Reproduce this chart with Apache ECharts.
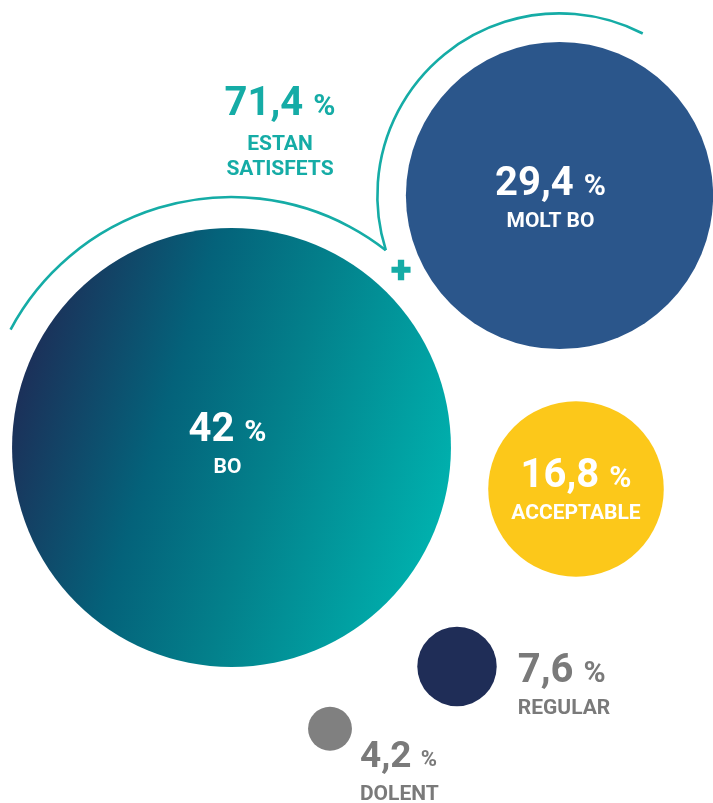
<!DOCTYPE html>
<html>
<head>
<meta charset="utf-8">
<script src="https://cdn.jsdelivr.net/npm/echarts@6/dist/echarts.min.js"></script>
<style>
  html, body { margin: 0; padding: 0; background: #ffffff; }
  #chart { width: 713px; height: 803px; }
</style>
</head>
<body>
<div id="chart"></div>
<script>
// ---- data ----
const categories = ['BO', 'MOLT BO', 'ACCEPTABLE', 'REGULAR', 'DOLENT'];
const percentages = [42, 29.4, 16.8, 7.6, 4.2];
const satisfiedGroup = ['BO', 'MOLT BO'];          // summed into the headline figure
const satisfiedCaption = ['ESTAN', 'SATISFETS'];

// ---- layout (bubble centres on a plane the size of the canvas) ----
const centres = [[231.5, 447.5], [559.5, 195.5], [576, 489], [457, 666.5], [330, 728.7]];
const labelSide = ['inside', 'inside', 'inside', 'right', 'right'];
const labelOffset = [[-4, -5], [-9, 1], [0, 0], [0, 17], [0, 41]];
const labelDistance = [0, 0, 0, 21, 8];

// ---- styles ----
const FONT = 'Roboto';
const TEAL = '#15aca6';
const GREY_TEXT = '#7a7a7a';
const PX_PER_POINT = 10.45;                  // bubble diameter per percentage point
const sizeOf = v => v * PX_PER_POINT;
const fmt = v => String(v).replace('.', ',');

const boGradient = new echarts.graphic.LinearGradient(0, 0.3, 1, 0.6, [
  { offset: 0, color: '#1e2b56' },
  { offset: 0.35, color: '#04627a' },
  { offset: 0.6, color: '#03808b' },
  { offset: 1, color: '#00b1ae' }
]);
const bubbleColors = [boGradient, '#2b568b', '#fcc81a', '#1f2d57', '#808080'];
const labelColors = ['#ffffff', '#ffffff', '#ffffff', GREY_TEXT, GREY_TEXT];
const valueFont = [40, 40, 40, 40, 37];
const pctFont = [30, 30, 30, 30, 22];

function richFor(i) {
  const c = labelColors[i];
  return {
    v: { fontFamily: FONT, fontWeight: 'bold', fontSize: valueFont[i], color: c, lineHeight: 50 },
    p: { fontFamily: FONT, fontWeight: 'bold', fontSize: pctFont[i], color: c, lineHeight: 50, padding: [5, 0, 0, 0] },
    n: { fontFamily: FONT, fontWeight: 'bold', fontSize: 21, color: c, lineHeight: 24 }
  };
}

const seriesData = categories.map((name, i) => ({
  name,
  value: [centres[i][0], centres[i][1], percentages[i]],
  itemStyle: { color: bubbleColors[i], opacity: 1 },
  label: {
    show: true,
    position: labelSide[i],
    distance: labelDistance[i],
    offset: labelOffset[i],
    align: labelSide[i] === 'inside' ? 'center' : 'left',
    formatter: p => `{v|${fmt(p.value[2])} }{p|%}\n{n|${p.name}}`,
    rich: richFor(i)
  }
}));

const chart = echarts.init(document.getElementById('chart'), null, { renderer: 'canvas' });

chart.setOption({
  animation: false,
  backgroundColor: '#ffffff',
  textStyle: { fontFamily: FONT },
  grid: { left: 0, top: 0, right: 0, bottom: 0 },
  xAxis: { type: 'value', min: 0, max: 713, show: false },
  yAxis: { type: 'value', min: 0, max: 803, inverse: true, show: false },
  series: [{
    type: 'scatter',
    symbol: 'circle',
    symbolSize: val => sizeOf(val[2]),
    itemStyle: { opacity: 1 },
    emphasis: { disabled: true },
    data: seriesData,
    silent: true
  }]
});

// ---- rings joining the two "satisfied" bubbles ----
const idxA = categories.indexOf(satisfiedGroup[0]);
const idxB = categories.indexOf(satisfiedGroup[1]);
const cA = chart.convertToPixel({ seriesIndex: 0 }, centres[idxA]);
const cB = chart.convertToPixel({ seriesIndex: 0 }, centres[idxB]);
const rA = sizeOf(percentages[idxA]) / 2 + 31;
const rB = sizeOf(percentages[idxB]) / 2 + 28.5;

// upper intersection of the two rings = the point where they meet
const dx = cB[0] - cA[0], dy = cB[1] - cA[1];
const d = Math.hypot(dx, dy);
const a = (d * d + rA * rA - rB * rB) / (2 * d);
const h = Math.sqrt(Math.max(0, rA * rA - a * a));
const ux = dx / d, uy = dy / d;
const tip = [cA[0] + a * ux + h * uy, cA[1] + a * uy - h * ux];

const deg = x => x * Math.PI / 180;
const angA = Math.atan2(tip[1] - cA[1], tip[0] - cA[0]);
const angB = Math.atan2(tip[1] - cB[1], tip[0] - cB[0]);

const satisfiedTotal = Math.round(
  satisfiedGroup.reduce((s, n) => s + percentages[categories.indexOf(n)], 0) * 10
) / 10;

chart.setOption({
  graphic: [
    {
      type: 'arc', silent: true,
      shape: { cx: cA[0], cy: cA[1], r: rA, startAngle: deg(-151.9), endAngle: angA, clockwise: true },
      style: { stroke: TEAL, lineWidth: 2.6, fill: 'none' }
    },
    {
      type: 'arc', silent: true,
      shape: { cx: cB[0], cy: cB[1], r: rB, startAngle: angB, endAngle: deg(-62.8), clockwise: true },
      style: { stroke: TEAL, lineWidth: 2.6, fill: 'none' }
    },
    {
      type: 'text', silent: true,
      x: 401, y: 273,
      style: {
        text: '+', fill: TEAL, stroke: TEAL, lineWidth: 1.5,
        font: 'bold 36px ' + FONT, align: 'center', verticalAlign: 'middle'
      }
    },
    {
      type: 'text', silent: true,
      x: 280, y: 78,
      style: {
        text: `{v|${fmt(satisfiedTotal)} }{p|%}\n{n|${satisfiedCaption[0]}}\n{n|${satisfiedCaption[1]}}`,
        align: 'center', verticalAlign: 'top',
        rich: {
          v: { fontFamily: FONT, fontWeight: 'bold', fontSize: 40, fill: TEAL, lineHeight: 54 },
          p: { fontFamily: FONT, fontWeight: 'bold', fontSize: 30, fill: TEAL, lineHeight: 54, padding: [5, 0, 0, 0] },
          n: { fontFamily: FONT, fontWeight: 'bold', fontSize: 21, fill: TEAL, lineHeight: 25 }
        }
      }
    }
  ]
});
</script>
</body>
</html>
